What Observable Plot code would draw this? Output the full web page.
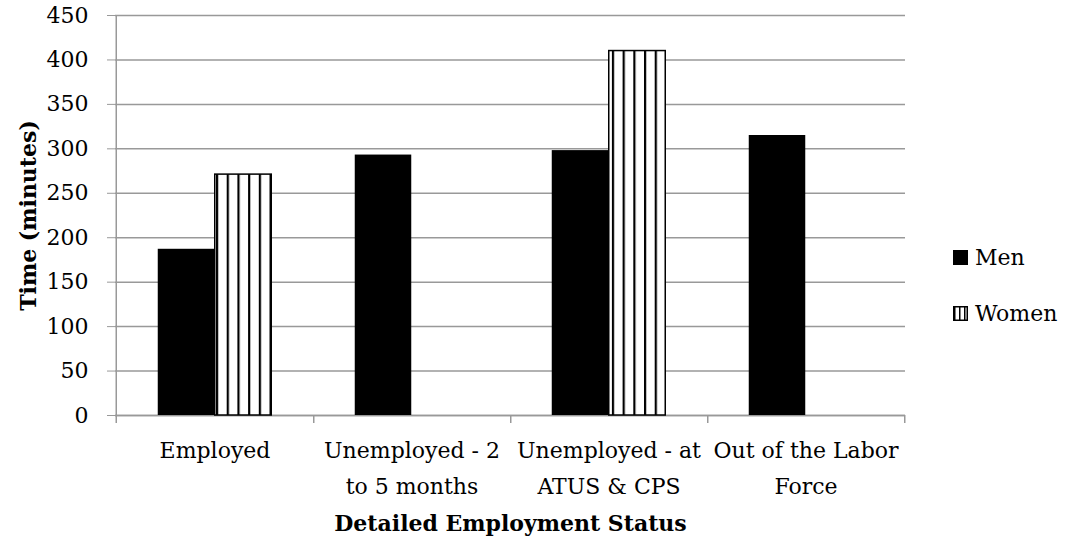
<!DOCTYPE html>
<html><head><meta charset="utf-8">
<script src="https://cdn.jsdelivr.net/npm/d3@7"></script>
<script src="https://cdn.jsdelivr.net/npm/@observablehq/plot@0.6"></script>
<style>
body{margin:0;background:#fff;}
#wrap{position:relative;width:1068px;height:541px;font-family:"DejaVu Serif",serif;}
#chart svg{display:block;}
g[aria-label="y-axis tick"]{stroke:#999;}
#legend{position:absolute;left:953px;top:229px;font-family:"DejaVu Serif",serif;font-size:22px;color:#000;}
.item{display:flex;align-items:center;height:56px;}
.sw{width:15px;height:15px;margin-right:7px;box-sizing:border-box;}
</style></head><body>
<svg width="0" height="0" style="position:absolute">
<defs>
<pattern id="vstripes" patternUnits="userSpaceOnUse" width="10.7" height="10" x="2">
<rect width="10.7" height="10" fill="#fff"/><rect x="0" width="2.2" height="10" fill="#000"/>
</pattern>
<pattern id="vstripesSmall" patternUnits="userSpaceOnUse" width="5" height="10" x="1">
<rect width="5" height="10" fill="#fff"/><rect x="0" width="1.5" height="10" fill="#000"/>
</pattern>
</defs>
</svg>
<div id="wrap"><div id="chart"></div>
<div id="legend">
<div class="item"><svg class="sw" viewBox="0 0 15 15"><rect width="15" height="15" fill="#000"/></svg><span>Men</span></div>
<div class="item"><svg class="sw" viewBox="0 0 15 15"><rect x="0.75" y="0.75" width="13.5" height="13.5" fill="url(#vstripesSmall)" stroke="#000" stroke-width="1.5"/></svg><span>Women</span></div>
</div>
</div>
<script>
const categories = ["Employed","Unemployed - 2 to 5 months","Unemployed - at ATUS & CPS","Out of the Labor Force"];
const tickLabels = ["Employed","Unemployed - 2\nto 5 months","Unemployed - at\nATUS & CPS","Out of the Labor\nForce"];
const series = ["Men","Women"];
const menValues = [187, 293, 298, 315];
const womenValues = [271, null, 410, null];
const yTicks = [0,50,100,150,200,250,300,350,400,450];
const yTitle = "Time (minutes)";
const xTitle = "Detailed Employment Status";

const W = 1068, H = 541, mL = 115, mR = 163, mT = 15, mB = 126;
const bw = (W - mL - mR) / categories.length;
const barW = 57;
const outer = (bw - 2 * barW) / 2;

const men = categories.map((c, i) => ({category: c, series: series[0], value: menValues[i]}));
const women = categories.map((c, i) => ({category: c, series: series[1], value: womenValues[i]})).filter(d => d.value != null);

const grey = "#999";
const chart = Plot.plot({
  width: W, height: H,
  marginLeft: mL, marginRight: mR, marginTop: mT, marginBottom: mB,
  style: {fontFamily: "DejaVu Serif, serif", fontSize: "22px", color: "#000", background: "#fff"},
  x: {type: "band", domain: categories, padding: 0, label: null},
  y: {domain: [0, 450], label: null},
  marks: [
    Plot.gridY(yTicks, {stroke: grey, strokeOpacity: 1, strokeWidth: 1.5}),
    Plot.axisY(yTicks, {tickSize: 8, tickPadding: 19, label: null}),
    Plot.axisX({tickSize: 0, tickPadding: 18, lineHeight: 1.6, label: null, tickFormat: d => tickLabels[categories.indexOf(d)]}),
    Plot.ruleX([categories[0]], {stroke: grey, strokeWidth: 1.5, dx: -bw / 2, insetBottom: -8}),
    Plot.ruleX(categories, {y1: 0, y2: 0, stroke: grey, strokeWidth: 1.5, dx: bw / 2, insetBottom: -8}),
    Plot.ruleY([0], {stroke: grey, strokeWidth: 1.5}),
    Plot.barY(men, {x: "category", y: "value", fill: "#000", insetLeft: outer, insetRight: bw / 2}),
    Plot.barY(women, {x: "category", y: "value", fill: "url(#vstripes)", stroke: "#000", strokeWidth: 1.5, insetLeft: bw / 2, insetRight: outer}),
    Plot.text([yTitle], {frameAnchor: "left", rotate: -90, dx: -87, textAnchor: "middle", lineAnchor: "middle", fontWeight: "bold", fontSize: 22}),
    Plot.text([xTitle], {frameAnchor: "bottom", dy: 108, textAnchor: "middle", lineAnchor: "middle", fontWeight: "bold", fontSize: 22})
  ]
});
document.getElementById("chart").appendChild(chart);
</script>
</body></html>
